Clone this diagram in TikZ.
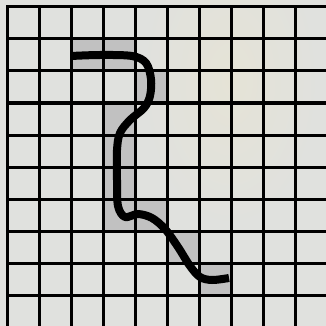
\documentclass[tikz,border=0pt]{standalone}
\definecolor{bg}{RGB}{224,225,222}
\definecolor{tint}{RGB}{229,227,214}
\definecolor{cellgray}{RGB}{193,193,193}
\begin{document}
\begin{tikzpicture}[x=1pt,y=-1pt,
  gridline/.style={line width=3pt,black,line cap=rect},
  route/.style={line width=8pt,black,line cap=butt,line join=round},
  cellfill/.style={fill=cellgray}]
\fill[bg] (0,0) rectangle (326,326);
\useasboundingbox (0,0) rectangle (326,326);
\shade[inner color=tint,outer color=bg] (230,80) ellipse [x radius=90, y radius=150];
\foreach \c/\r in {2/1,3/1,4/2,3/3,3/4,3/5,3/6,4/6,5/7,6/8}
  \path[cellfill] ({7+32*\c},{7+32*\r}) rectangle ++(32,32);
\foreach \k in {0,...,9} {
  \draw[gridline] ({7+32*\k},7) -- ({7+32*\k},330);
  \draw[gridline] (7,{7+32*\k}) -- (330,{7+32*\k});
}
\draw[route] plot[smooth,tension=0.55] coordinates {
  (71,56) (100,55) (132,56) (146,63) (151,79) (150,96) (144,108)
  (130,120) (120,133) (117,150) (117,180) (118,206) (125,217)
  (138,214) (152,218) (165,229) (178,247) (190,266) (200,277)
  (212,280) (229,278)};
\end{tikzpicture}
\end{document}
